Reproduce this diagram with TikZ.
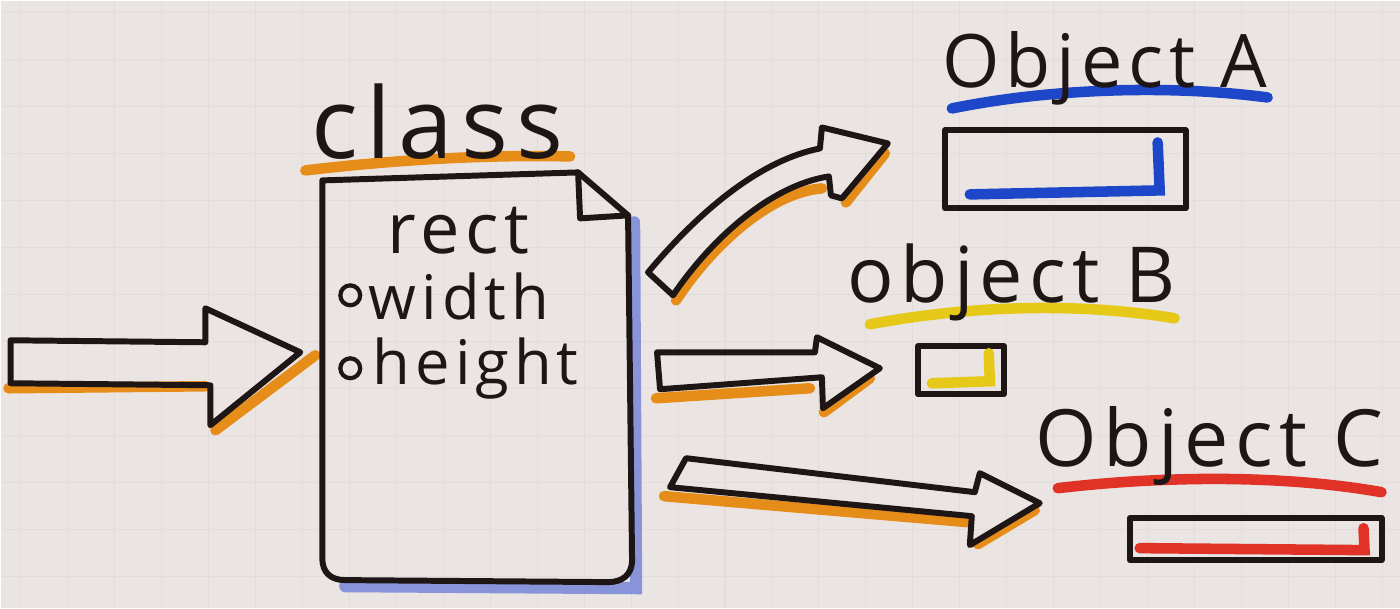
\documentclass[tikz,border=0pt]{standalone}
\usepackage{fontspec}
\usepackage{tikz}
\usepackage{xcolor}
\newfontfamily\handfont[LetterSpace=8]{Open Sans}

\definecolor{paper}{RGB}{234,229,227}
\definecolor{gridink}{RGB}{226,221,219}
\definecolor{ink}{RGB}{30,22,20}
\definecolor{orangemark}{RGB}{230,140,25}
\definecolor{bluemark}{RGB}{30,70,200}
\definecolor{blueshade}{RGB}{95,115,215}
\definecolor{yellowmark}{RGB}{230,200,25}
\definecolor{redmark}{RGB}{225,50,40}

\tikzset{
  outline/.style={draw=ink,line width=1.7pt,line join=round,line cap=round},
  marker/.style={line width=3pt,line cap=round},
  hand/.style={font=\handfont,text=ink,inner sep=0pt}
}

\begin{document}
\begin{tikzpicture}[x=0.1mm,y=-0.1mm]
        \fill[paper] (0,0) rectangle (1400,608);
        \foreach \gx in {20,67,...,1400}
            \draw[gridink,line width=0.3pt] (\gx,0) -- (\gx,608);
        \foreach \gy in {12,59,...,608}
            \draw[gridink,line width=0.3pt] (0,\gy) -- (1400,\gy);

        \draw[marker,orangemark] (8,388) -- (205,386);
        \draw[marker,orangemark] (215,430) -- (315,355);
        \draw[outline] (10,340) -- (205,342) -- (205,308) -- (300,352) -- (210,425) -- (210,385) -- (10,383) -- cycle;

        \draw[line width=3.5pt,blueshade,opacity=0.7,line cap=round] (634,222) -- (636,588) -- (345,586);
        \draw[outline] (322,180) -- (578,172) -- (628,215) -- (632,560) .. controls (632,575) and (622,582) .. (608,582) -- (345,580) .. controls (330,580) and (322,572) .. (322,558) -- cycle;
        \draw[outline] (578,172) -- (580,218) -- (628,215);
        \draw[marker,orangemark] (305,170) .. controls (390,160) and (480,154) .. (570,156);
        \node[hand,font=\handfont\fontsize{28}{30}\selectfont] (classname) at (437,121) {class};
        \node[hand,font=\handfont\fontsize{20}{22}\selectfont] (rectname) at (458,230) {rect};
        \node[draw=ink,circle,line width=1.2pt,inner sep=2pt] (dotwidth) at (350,295) {};
        \node[hand,font=\handfont\fontsize{17.5}{20}\selectfont,anchor=west] (widthname) at (368,296) {width};
        \node[draw=ink,circle,line width=1.2pt,inner sep=2pt] (dotheight) at (350,368) {};
        \node[hand,font=\handfont\fontsize{17.5}{20}\selectfont,anchor=west] (heightname) at (372,368) {height};

        \draw[marker,orangemark] (676,300) .. controls (712,245) and (770,192) .. (822,188);
        \draw[marker,orangemark] (846,202) -- (885,153);
        \draw[outline] (648,272) .. controls (700,210) and (760,160) .. (820,148) -- (822,127) -- (888,143) -- (842,198) -- (831,195) -- (829,176) .. controls (770,185) and (710,240) .. (673,295) -- cycle;

        \draw[marker,orangemark] (656,398) -- (810,388);
        \draw[marker,orangemark] (824,412) -- (870,378);
        \draw[outline] (657,352) -- (815,352) -- (817,337) -- (880,368) -- (823,408) -- (822,377) -- (660,389) -- cycle;

        \draw[marker,orangemark] (664,496) -- (968,522);
        \draw[marker,orangemark] (978,544) -- (1035,510);
        \draw[outline] (686,458) -- (975,492) -- (980,473) -- (1040,503) -- (970,545) -- (972,516) -- (670,487) -- cycle;

        \draw[marker,bluemark] (952,108) .. controls (1050,88) and (1170,84) .. (1268,97);
        \node[hand,font=\handfont\fontsize{21}{23}\selectfont] (objA) at (1105,68) {Object A};
        \draw[outline] (945,130) rectangle (1186,208);
        \draw[marker,bluemark] (970,194) -- (1160,190) -- (1158,142);

        \draw[marker,yellowmark] (870,324) .. controls (970,305) and (1080,302) .. (1175,318);
        \node[hand,font=\handfont\fontsize{22}{24}\selectfont] (objB) at (1012,282) {object B};
        \draw[outline] (918,346) rectangle (1004,394);
        \draw[marker,yellowmark] (932,383) -- (990,381) -- (989,353);

        \draw[marker,redmark] (1058,488) .. controls (1160,476) and (1280,474) .. (1382,492);
        \node[hand,font=\handfont\fontsize{22.5}{24}\selectfont] (objC) at (1210,446) {Object C};
        \draw[outline] (1130,518) rectangle (1382,560);
        \draw[marker,redmark] (1140,548) -- (1365,550) -- (1364,528);
    \end{tikzpicture}
\end{document}
